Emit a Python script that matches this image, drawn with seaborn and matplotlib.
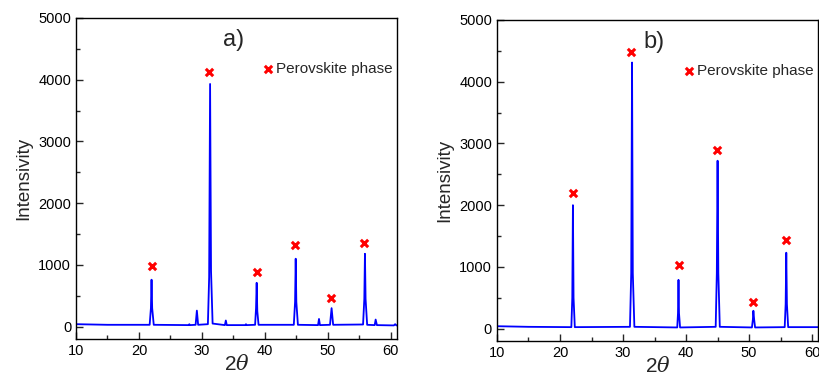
import numpy as np
import pandas as pd
import matplotlib
matplotlib.use('Agg')
import matplotlib.pyplot as plt
from matplotlib.ticker import MultipleLocator
import seaborn as sns

# pattern a) (2theta, counts)
two_theta_a = [10, 15, 21.7, 21.9, 22.0, 22.1, 22.35, 27.9, 28.0, 28.1, 29.0, 29.2, 29.4,
               30.95, 31.15, 31.3, 31.45, 31.7, 33.65, 33.8, 33.95, 36.9, 37.0, 37.1,
               38.45, 38.6, 38.7, 38.8, 39.0, 44.6, 44.8, 44.9, 45.0, 45.25,
               48.45, 48.6, 48.75, 50.35, 50.6, 50.85, 55.6, 55.8, 55.9, 56.0, 56.25,
               57.45, 57.6, 57.8, 60.5, 60.7, 60.9, 61]
intensity_a = [40, 30, 30, 300, 760, 300, 30, 25, 40, 25, 30, 260, 30,
               40, 800, 3930, 900, 50, 25, 100, 25, 25, 40, 25,
               30, 300, 710, 250, 30, 30, 400, 1100, 400, 30,
               25, 125, 25, 30, 300, 30, 35, 450, 1180, 450, 30,
               25, 115, 25, 20, 40, 20, 20]

# pattern b)
two_theta_b = [10, 15, 21.8, 21.95, 22.05, 22.15, 22.35, 31.1, 31.3, 31.43, 31.55, 31.8,
               38.6, 38.72, 38.8, 38.88, 39.05, 44.7, 44.88, 45.0, 45.12, 45.35,
               50.45, 50.6, 50.68, 50.8, 50.95, 55.65, 55.8, 55.9, 56.0, 56.2, 61]
intensity_b = [40, 30, 25, 500, 2000, 500, 25, 30, 900, 4310, 900, 30,
               20, 250, 790, 250, 20, 30, 900, 2720, 900, 30,
               20, 150, 290, 150, 20, 25, 400, 1230, 400, 25, 25]

# perovskite markers
mark_x_a = [22.0, 31.2, 38.7, 44.8, 50.5, 55.7]
mark_y_a = [980, 4130, 880, 1320, 470, 1350]
mark_x_b = [22.1, 31.3, 38.9, 44.9, 50.6, 55.9]
mark_y_b = [2200, 4480, 1030, 2890, 440, 1430]

sns.set_style('ticks')
plt.rcParams['font.family'] = ['Liberation Sans', 'DejaVu Sans']
plt.rcParams['mathtext.fontset'] = 'dejavuserif'

fig = plt.figure(figsize=(8.19, 3.76), dpi=100)
ax1 = fig.add_axes([0.0928, 0.0984, 0.392, 0.854])
ax2 = fig.add_axes([0.6068, 0.093, 0.3925, 0.854])

panels = [
    (ax1, two_theta_a, intensity_a, mark_x_a, mark_y_a, 'a)'),
    (ax2, two_theta_b, intensity_b, mark_x_b, mark_y_b, 'b)'),
]

for ax, tt, inten, mx, my, tag in panels:
    df = pd.DataFrame({'2theta': tt, 'I': inten})
    sns.lineplot(data=df, x='2theta', y='I', ax=ax, color='#0000ff', lw=1.3,
                 sort=False, estimator=None)
    mk = pd.DataFrame({'x': mx, 'y': my})
    sns.scatterplot(data=mk, x='x', y='y', ax=ax, marker='x', color='red',
                    s=28, linewidth=2.2, label='Perovskite phase', zorder=5)
    ax.set_xlim(10, 61)
    ax.set_ylim(-200, 5000)
    ax.xaxis.set_major_locator(MultipleLocator(10))
    ax.xaxis.set_minor_locator(MultipleLocator(5))
    ax.yaxis.set_major_locator(MultipleLocator(1000))
    ax.yaxis.set_minor_locator(MultipleLocator(500))
    ax.tick_params(which='major', direction='in', length=5, width=1, labelsize=10.5,
                   labelcolor='black', top=False, right=False)
    ax.tick_params(which='minor', direction='in', length=3, width=1, top=False, right=False)
    for s in ax.spines.values():
        s.set_linewidth(1)
        s.set_color('black')
    ax.set_xlabel('2$\\theta$', fontsize=15, labelpad=-3)
    ax.set_ylabel('Intensivity', fontsize=13.5, labelpad=4)
    ax.text(0.49, 0.93, tag, transform=ax.transAxes, fontsize=17,
            ha='center', va='center')
    ax.legend(loc='upper right', bbox_to_anchor=(1.01, 0.885), frameon=False,
              handletextpad=0.05, handlelength=1.0, borderpad=0, fontsize=11)

fig.savefig('out.png', dpi=100)
